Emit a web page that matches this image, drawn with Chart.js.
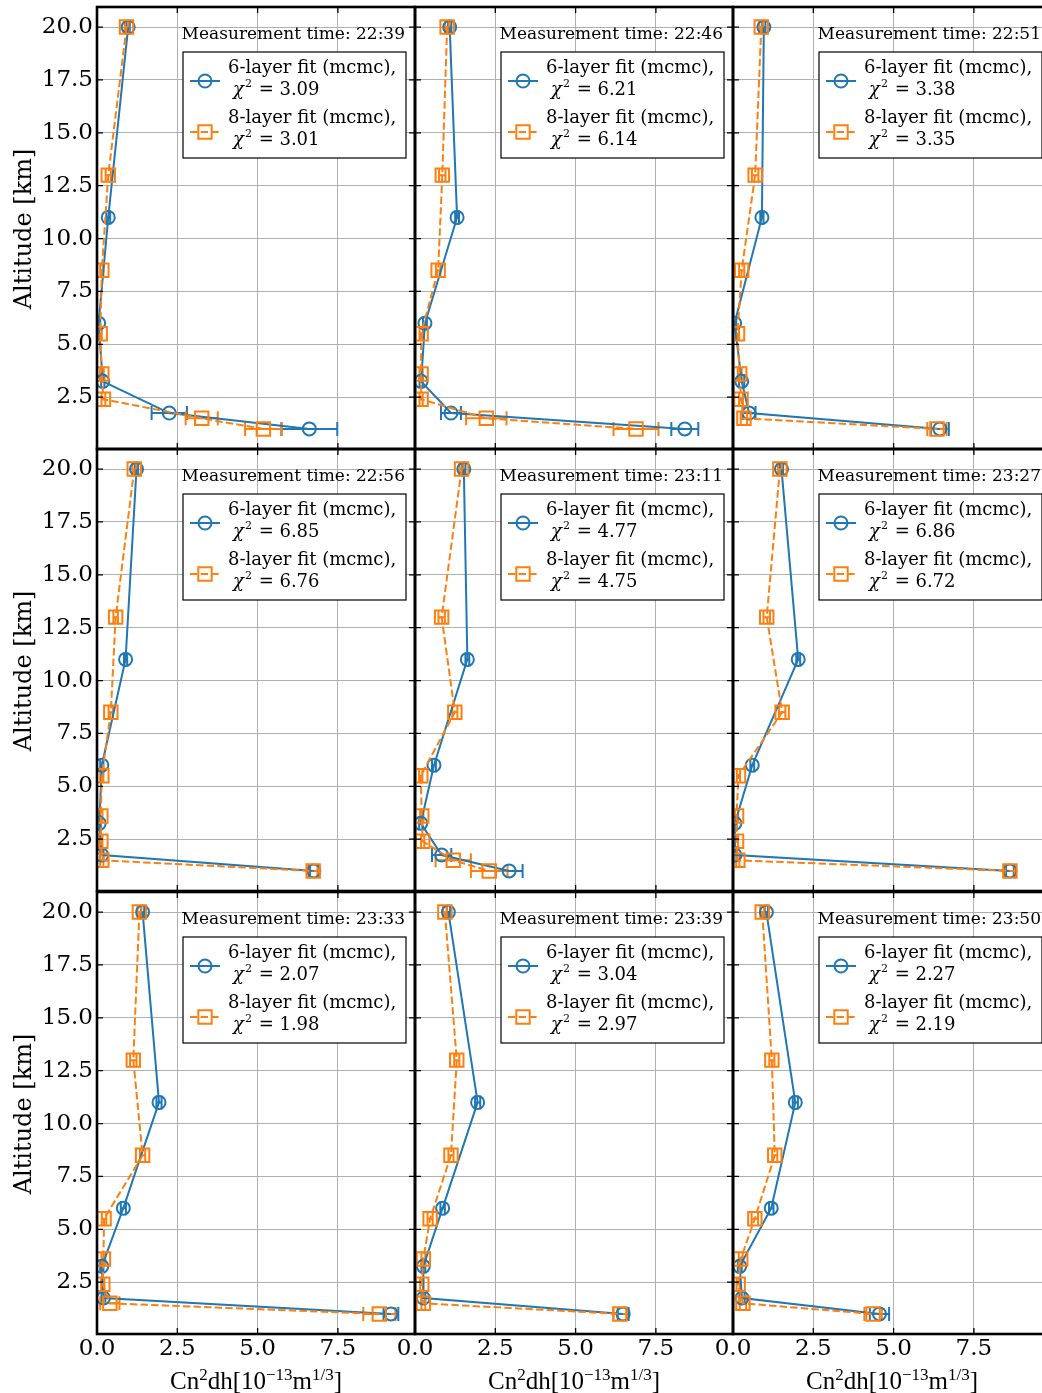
<!DOCTYPE html>
<html><head><meta charset="utf-8">
<script src="https://cdn.jsdelivr.net/npm/chart.js@4.4.1/dist/chart.umd.min.js"></script>
<style>
html,body{margin:0;padding:0;background:#fff;overflow:hidden;}
#fig{position:relative;width:1042px;height:1393px;overflow:hidden;background:#fff;}
#fig canvas{position:absolute;}
</style></head>
<body><div id="fig"></div>
<script>
// ---------------- data ----------------
const times = ['22:39','22:46','22:51','22:56','23:11','23:27','23:33','23:39','23:50'];
const chi6  = ['3.09','6.21','3.38','6.85','4.77','6.86','2.07','3.04','2.27'];
const chi8  = ['3.01','6.14','3.35','6.76','4.75','6.72','1.98','2.97','2.19'];
const alt6 = [20, 11, 6, 3.25, 1.75, 1.0];
const alt8 = [20, 13, 8.5, 5.5, 3.6, 2.4, 1.5, 1.0];
const cn6 = [
  [0.97, 0.35, 0.05, 0.18, 2.25, 6.61],
  [1.08, 1.31, 0.31, 0.19, 1.12, 8.40],
  [0.96, 0.90, 0.05, 0.27, 0.50, 6.44],
  [1.23, 0.89, 0.15, 0.07, 0.15, 6.75],
  [1.52, 1.63, 0.59, 0.18, 0.83, 2.93],
  [1.51, 2.03, 0.60, 0.06, 0.06, 8.62],
  [1.42, 1.93, 0.82, 0.15, 0.20, 9.15],
  [1.04, 1.95, 0.86, 0.26, 0.26, 6.48],
  [1.04, 1.94, 1.19, 0.21, 0.28, 4.56]
];
const err6 = [
  [0.05, 0.06, 0.05, 0.05, 0.55, 0.87],
  [0.05, 0.06, 0.06, 0.05, 0.31, 0.42],
  [0.05, 0.05, 0.05, 0.08, 0.20, 0.28],
  [0.05, 0.05, 0.05, 0.05, 0.05, 0.12],
  [0.05, 0.06, 0.06, 0.05, 0.30, 0.42],
  [0.05, 0.06, 0.06, 0.05, 0.05, 0.12],
  [0.05, 0.08, 0.08, 0.05, 0.06, 0.23],
  [0.05, 0.08, 0.07, 0.06, 0.06, 0.17],
  [0.05, 0.08, 0.07, 0.06, 0.08, 0.30]
];
const cn8 = [
  [0.92, 0.35, 0.15, 0.10, 0.15, 0.20, 3.26, 5.18],
  [1.00, 0.85, 0.72, 0.19, 0.19, 0.19, 2.22, 6.88],
  [0.88, 0.69, 0.27, 0.14, 0.21, 0.25, 0.34, 6.35],
  [1.16, 0.58, 0.43, 0.15, 0.12, 0.12, 0.15, 6.73],
  [1.45, 0.83, 1.24, 0.18, 0.21, 0.24, 1.19, 2.31],
  [1.46, 1.05, 1.53, 0.17, 0.11, 0.11, 0.15, 8.62],
  [1.32, 1.13, 1.42, 0.22, 0.20, 0.18, 0.40, 8.79],
  [0.93, 1.30, 1.12, 0.47, 0.26, 0.21, 0.26, 6.38],
  [0.91, 1.21, 1.30, 0.68, 0.24, 0.16, 0.31, 4.36]
];
const err8 = [
  [0.06, 0.08, 0.05, 0.05, 0.06, 0.06, 0.50, 0.57],
  [0.06, 0.10, 0.07, 0.05, 0.05, 0.05, 0.63, 0.70],
  [0.06, 0.10, 0.08, 0.05, 0.06, 0.06, 0.10, 0.30],
  [0.06, 0.07, 0.07, 0.05, 0.05, 0.05, 0.05, 0.15],
  [0.06, 0.10, 0.08, 0.05, 0.05, 0.05, 0.55, 0.57],
  [0.06, 0.10, 0.10, 0.05, 0.05, 0.05, 0.05, 0.15],
  [0.06, 0.10, 0.08, 0.07, 0.06, 0.05, 0.30, 0.50],
  [0.06, 0.08, 0.08, 0.08, 0.06, 0.05, 0.06, 0.20],
  [0.06, 0.08, 0.08, 0.10, 0.06, 0.05, 0.10, 0.27]
];
const xTicks = [0, 2.5, 5, 7.5];
const yTicks = [2.5, 5, 7.5, 10, 12.5, 15, 17.5, 20];
const xRange = [0, 9.9];
const yRange = [0.05, 20.95];
const label6 = '6-layer fit (mcmc),';
const label8 = '8-layer fit (mcmc),';
const yTitle = 'Altitude [km]';

// ---------------- style / layout ----------------
const BLUE = '#1f77b4', ORANGE = '#ff7f0e', GRID = '#b0b0b0';
const colLeft = [97, 415, 733], rowTop = [7, 449, 892], PW = 318, PH = 442;
const SERIF = "'DejaVu Serif', serif";
const TIMES = "'Liberation Serif', 'Times New Roman', serif";

function drawErrorBars(chart) {
  const ctx = chart.ctx, ca = chart.chartArea;
  const xs = chart.scales.x, ys = chart.scales.y;
  ctx.save();
  ctx.beginPath(); ctx.rect(ca.left, ca.top, ca.right - ca.left, ca.bottom - ca.top); ctx.clip();
  chart.data.datasets.forEach(ds => {
    ctx.strokeStyle = ds.borderColor; ctx.lineWidth = 2; ctx.setLineDash([]);
    ds.data.forEach((pt, i) => {
      const e = ds.errs[i];
      const xl = xs.getPixelForValue(pt.x - e), xr = xs.getPixelForValue(pt.x + e);
      const y = ys.getPixelForValue(pt.y);
      ctx.beginPath();
      ctx.moveTo(xl, y); ctx.lineTo(xr, y);
      ctx.moveTo(xl, y - 7); ctx.lineTo(xl, y + 7);
      ctx.moveTo(xr, y - 7); ctx.lineTo(xr, y + 7);
      ctx.stroke();
    });
  });
  ctx.restore();
}

function drawMarker(ctx, type, x, y, color) {
  ctx.save();
  ctx.strokeStyle = color; ctx.lineWidth = 2; ctx.setLineDash([]);
  ctx.beginPath();
  if (type === 'circle') ctx.arc(x, y, 6.5, 0, Math.PI * 2);
  else { const h = 6.7; ctx.rect(x - h, y - h, 2 * h, 2 * h); }
  ctx.stroke();
  ctx.restore();
}

function drawChiLine(ctx, x, baseline, val) {
  ctx.font = "italic 18px " + SERIF;
  ctx.fillText('\u03C7', x, baseline);
  let w = ctx.measureText('\u03C7').width;
  ctx.font = "11px " + SERIF;
  ctx.fillText('2', x + w + 1, baseline - 8);
  let w2 = ctx.measureText('2').width;
  ctx.font = "18px " + SERIF;
  ctx.fillText(' = ' + val, x + w + w2 + 2, baseline);
}

function drawLegend(ctx, ca, p) {
  const x0 = ca.right - 232, x1 = ca.right - 9, y0 = ca.top + 45, y1 = ca.top + 151;
  ctx.save();
  ctx.fillStyle = '#fff'; ctx.fillRect(x0, y0, x1 - x0, y1 - y0);
  ctx.strokeStyle = '#000'; ctx.lineWidth = 1.2; ctx.strokeRect(x0, y0, x1 - x0, y1 - y0);
  const hy1 = ca.top + 74, hy2 = ca.top + 125;
  ctx.strokeStyle = BLUE; ctx.lineWidth = 2;
  ctx.beginPath(); ctx.moveTo(x0 + 7, hy1); ctx.lineTo(x0 + 37, hy1); ctx.stroke();
  drawMarker(ctx, 'circle', x0 + 22, hy1, BLUE);
  ctx.strokeStyle = ORANGE; ctx.setLineDash([7.4, 3.2]);
  ctx.beginPath(); ctx.moveTo(x0 + 7, hy2); ctx.lineTo(x0 + 37, hy2); ctx.stroke();
  ctx.setLineDash([]);
  drawMarker(ctx, 'rect', x0 + 22, hy2, ORANGE);
  ctx.fillStyle = '#000'; ctx.textAlign = 'left'; ctx.textBaseline = 'alphabetic';
  ctx.font = "18px " + SERIF;
  ctx.fillText(label6, x0 + 45, ca.top + 66);
  drawChiLine(ctx, x0 + 50, ca.top + 88, chi6[p]);
  ctx.font = "18px " + SERIF;
  ctx.fillText(label8, x0 + 45, ca.top + 116);
  drawChiLine(ctx, x0 + 50, ca.top + 138, chi8[p]);
  ctx.restore();
}

function drawXTitle(ctx, cx, baseline) {
  const parts = [
    ['Cn', 0], ['2', 1], ['dh[10', 0], ['\u221213', 1], ['m', 0], ['1/3', 1], [']', 0]
  ];
  const big = "25px " + TIMES, small = "17px " + TIMES;
  let total = 0;
  parts.forEach(([t, s]) => { ctx.font = s ? small : big; total += ctx.measureText(t).width; });
  let x = cx - total / 2;
  ctx.fillStyle = '#000'; ctx.textAlign = 'left'; ctx.textBaseline = 'alphabetic';
  parts.forEach(([t, s]) => {
    ctx.font = s ? small : big;
    ctx.fillText(t, x, s ? baseline - 9 : baseline);
    x += ctx.measureText(t).width;
  });
}

const decor = {
  id: 'decor',
  beforeDatasetsDraw(chart) { drawErrorBars(chart); },
  afterDraw(chart, args, opts) {
    const ctx = chart.ctx, ca = chart.chartArea;
    const xs = chart.scales.x, ys = chart.scales.y;
    const p = opts.p, r = opts.r, c = opts.c;
    ctx.save();
    ctx.strokeStyle = '#000'; ctx.lineWidth = 1.3;
    ctx.beginPath();
    xTicks.forEach(v => {
      const x = xs.getPixelForValue(v);
      ctx.moveTo(x, ca.bottom); ctx.lineTo(x, ca.bottom - 6);
      ctx.moveTo(x, ca.top); ctx.lineTo(x, ca.top + 6);
    });
    yTicks.forEach(v => {
      const y = ys.getPixelForValue(v);
      ctx.moveTo(ca.left, y); ctx.lineTo(ca.left + 6, y);
      ctx.moveTo(ca.right, y); ctx.lineTo(ca.right - 6, y);
    });
    ctx.stroke();
    ctx.lineWidth = 2.6;
    ctx.strokeRect(ca.left, ca.top, ca.right - ca.left, ca.bottom - ca.top);
    ctx.fillStyle = '#000'; ctx.font = "17px " + SERIF;
    ctx.textAlign = 'right'; ctx.textBaseline = 'alphabetic';
    ctx.fillText('Measurement time: ' + times[p], ca.right - 10, ca.top + 32);
    ctx.restore();
    drawLegend(ctx, ca, p);
    if (c === 0) {
      ctx.save();
      ctx.translate(ca.left - 66, (ca.top + ca.bottom) / 2 + 1);
      ctx.rotate(-Math.PI / 2);
      ctx.fillStyle = '#000'; ctx.font = "24px " + SERIF;
      ctx.textAlign = 'center'; ctx.textBaseline = 'alphabetic';
      ctx.fillText(yTitle, 0, 0);
      ctx.restore();
    }
    if (r === 2) {
      ctx.save();
      drawXTitle(ctx, (ca.left + ca.right) / 2, ca.bottom + 55);
      ctx.restore();
    }
  }
};

const fig = document.getElementById('fig');
for (let p = 0; p < 9; p++) {
  const r = Math.floor(p / 3), c = p % 3;
  const mL = c === 0 ? 97 : 30, mT = 30, mR = 30, mB = r === 2 ? 60 : 30;
  const cv = document.createElement('canvas');
  const W = mL + PW + mR, H = mT + PH + mB;
  cv.width = W; cv.height = H;
  cv.style.width = W + 'px'; cv.style.height = H + 'px';
  cv.style.left = (colLeft[c] - mL) + 'px';
  cv.style.top = (rowTop[r] - mT) + 'px';
  fig.appendChild(cv);
  new Chart(cv, {
    type: 'scatter',
    data: {
      datasets: [
        {
          label: label6,
          data: alt6.map((a, i) => ({ x: cn6[p][i], y: a })),
          errs: err6[p],
          showLine: true, borderColor: BLUE, backgroundColor: BLUE, borderWidth: 2,
          pointStyle: 'circle', pointRadius: 6.5, pointBorderWidth: 2,
          pointBorderColor: BLUE, pointBackgroundColor: 'rgba(0,0,0,0)',
          clip: 0, order: 1
        },
        {
          label: label8,
          data: alt8.map((a, i) => ({ x: cn8[p][i], y: a })),
          errs: err8[p],
          showLine: true, borderColor: ORANGE, backgroundColor: ORANGE, borderWidth: 2,
          borderDash: [7.4, 3.2],
          pointStyle: 'rect', pointRadius: 9.5, pointBorderWidth: 2,
          pointBorderColor: ORANGE, pointBackgroundColor: 'rgba(0,0,0,0)',
          clip: 0, order: 0
        }
      ]
    },
    options: {
      responsive: false, animation: false, devicePixelRatio: 1, events: [],
      layout: { padding: { left: 0, top: mT, right: mR, bottom: 0 } },
      plugins: { legend: { display: false }, tooltip: { enabled: false }, decor: { p, r, c } },
      scales: {
        x: {
          type: 'linear', position: 'bottom', min: xRange[0], max: xRange[1],
          afterBuildTicks: s => { s.ticks = xTicks.map(v => ({ value: v })); },
          afterFit: s => { s.height = mB; },
          grid: { color: GRID, lineWidth: 1, drawTicks: false },
          border: { display: false },
          ticks: {
            display: r === 2, color: '#000', padding: 1, maxRotation: 0, autoSkip: false,
            font: { family: SERIF, size: 23 }, callback: v => Number(v).toFixed(1)
          }
        },
        y: {
          type: 'linear', position: 'left', min: yRange[0], max: yRange[1],
          afterBuildTicks: s => { s.ticks = yTicks.map(v => ({ value: v })); },
          afterFit: s => { s.width = mL; },
          grid: { color: GRID, lineWidth: 1, drawTicks: false },
          border: { display: false },
          ticks: {
            display: c === 0, color: '#000', padding: 4, autoSkip: false,
            font: { family: SERIF, size: 23 }, callback: v => Number(v).toFixed(1)
          }
        }
      }
    },
    plugins: [decor]
  });
}
</script>
</body></html>
